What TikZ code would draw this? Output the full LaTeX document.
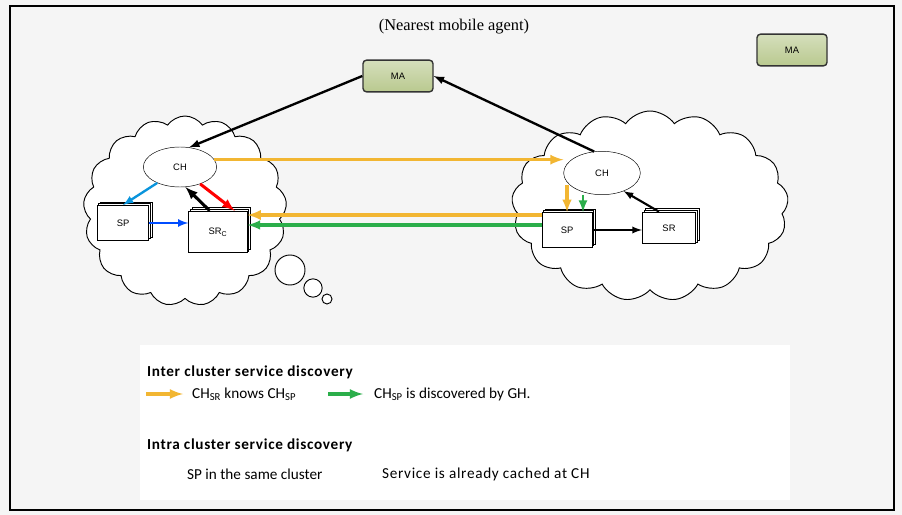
\documentclass[tikz,border=0pt]{standalone}
\usepackage{fontspec}
\setmainfont{Liberation Serif}
\setsansfont{Liberation Sans}
\newfontfamily\legendfont{Carlito}
\newfontfamily\widefont[LetterSpace=4.5]{Carlito}
\usetikzlibrary{positioning, shapes.symbols, shapes.geometric, shadows}

\definecolor{yel}{HTML}{F2B632}
\definecolor{grn}{HTML}{2BAE4A}
\definecolor{agentfill}{HTML}{B9C98F}

\begin{document}
\begin{tikzpicture}[x=0.03cm, y=-0.03cm, >=latex,
    agent/.style={draw=black!80, line width=1.2pt, rounded corners=3pt,
        top color=agentfill!60, bottom color=agentfill, minimum width=2.1cm,
        minimum height=0.95cm, font=\sffamily\fontsize{8}{9}\selectfont},
    head/.style={ellipse, draw, fill=white, font=\sffamily\fontsize{8}{9}\selectfont},
    srv/.style={draw, fill=white, thick, double copy shadow={shadow xshift=1.5pt, shadow yshift=1.5pt},
        font=\sffamily\fontsize{8}{9}\selectfont},
    cl/.style={cloud, cloud puffs=17, cloud puff arc=110, draw, thick, fill=white},
    bub/.style={circle, draw, thick, fill=white, inner sep=0pt},
    lbl/.style={anchor=west, font=\legendfont\fontsize{13}{15}\selectfont},
    widelbl/.style={anchor=west, font=\widefont\fontsize{13}{15}\selectfont}]

    \useasboundingbox (0,0) rectangle (902,515);
    \fill[black!4] (0,0) rectangle (902,515);
    \draw[line width=2pt] (10,6) rectangle (894,510);

    \node at (454,27) {\fontsize{14}{15}\selectfont (Nearest mobile agent)};

    % clouds
    \node (lcloud) at (185,211) [cl, minimum width=6.1cm, minimum height=5.7cm] {};
    \node (rcloud) at (650,206) [cl, minimum width=8.3cm, minimum height=5.7cm] {};
    \node (bub1) at (290,270) [bub, minimum size=0.9cm] {};
    \node (bub2) at (313,288) [bub, minimum size=0.55cm] {};
    \node (bub3) at (327,299) [bub, minimum size=0.3cm] {};

    % Nodes
    \node (ma) at (398,76) [agent] {MA};
    \node (makey) at (792,50) [agent] {MA};
    \node (lch) at (180,167) [head, minimum width=2.2cm, minimum height=1.2cm] {CH};
    \node (rch) at (602,173) [head, minimum width=2.3cm, minimum height=1.3cm] {CH};
    \node (lsp) at (123,223) [srv, minimum width=1.55cm, minimum height=1.05cm] {SP};
    \node (src) at (218,232) [srv, minimum width=1.75cm, minimum height=1.25cm] {SR\textsubscript{C}};
    \node (rsp) at (567,230) [srv, minimum width=1.5cm, minimum height=1.05cm] {SP};
    \node (rsr) at (669,228) [srv, minimum width=1.6cm, minimum height=0.95cm] {SR};

    % edges
    \draw[->, line width=2pt] (ma.west) -- (lch.65);
    \draw[->, line width=2pt] (rch.110) -- (ma.east);
    \draw[->, line width=2.8pt, yel] (lch.12) -- (lch.12 -| rch.west);
    \draw[->, line width=2.8pt, yel] ([yshift=4.5mm]rsp.west) -- ([yshift=4.5mm]rsp.west -| src.east);
    \draw[->, line width=2.6pt, grn] ([yshift=1.5mm]rsp.west) -- ([yshift=1.5mm]rsp.west -| src.east);
    \draw[->, line width=2.6pt, yel] (rsp.north |- rch.200) -- (rsp.north);
    \draw[->, line width=2.4pt, grn] ([xshift=4.8mm]rsp.north |- rch.south) -- ([xshift=4.8mm]rsp.north);
    \draw[->, line width=2.6pt, red] (lch.-40) -- ([xshift=5mm]src.north);
    \draw[->, line width=2.6pt] ([xshift=-2.5mm]src.north) -- (lch.-75);
    \draw[->, line width=2pt, cyan!80!blue] (lch.215) -- (lsp.north);
    \draw[->, line width=2pt, blue!70!cyan] (lsp.east) -- (lsp.east -| src.west);
    \draw[->, line width=1.8pt] (rsp.east) -- (rsp.east -| rsr.west);
    \draw[->, line width=1.8pt] ([xshift=-3mm]rsr.north) -- (rch.-40);

    % legend
    \fill[white] (140,345) rectangle (790,500);
    \node (inter) at (143,372) [widelbl] {\bfseries Inter cluster service discovery};
    \coordinate (ya) at (146,394);
    \coordinate (yb) at (183,394);
    \coordinate (ga) at (328,394);
    \coordinate (gb) at (363,394);
    \draw[->, line width=2.8pt, yel] (ya) -- (yb);
    \draw[->, line width=2.8pt, grn] (ga) -- (gb);
    \node (knows) at (188,394) [lbl] {CH\textsubscript{SR} knows CH\textsubscript{SP}};
    \node (disc) at (370,394) [lbl] {CH\textsubscript{SP} is discovered by GH.};
    \node (intra) at (143,445) [widelbl] {\bfseries Intra cluster service discovery};
    \node (same) at (183,474) [lbl] {SP in the same cluster};
    \node (cached) at (378,474) [widelbl] {Service is already cached at CH};

\end{tikzpicture}
\end{document}
